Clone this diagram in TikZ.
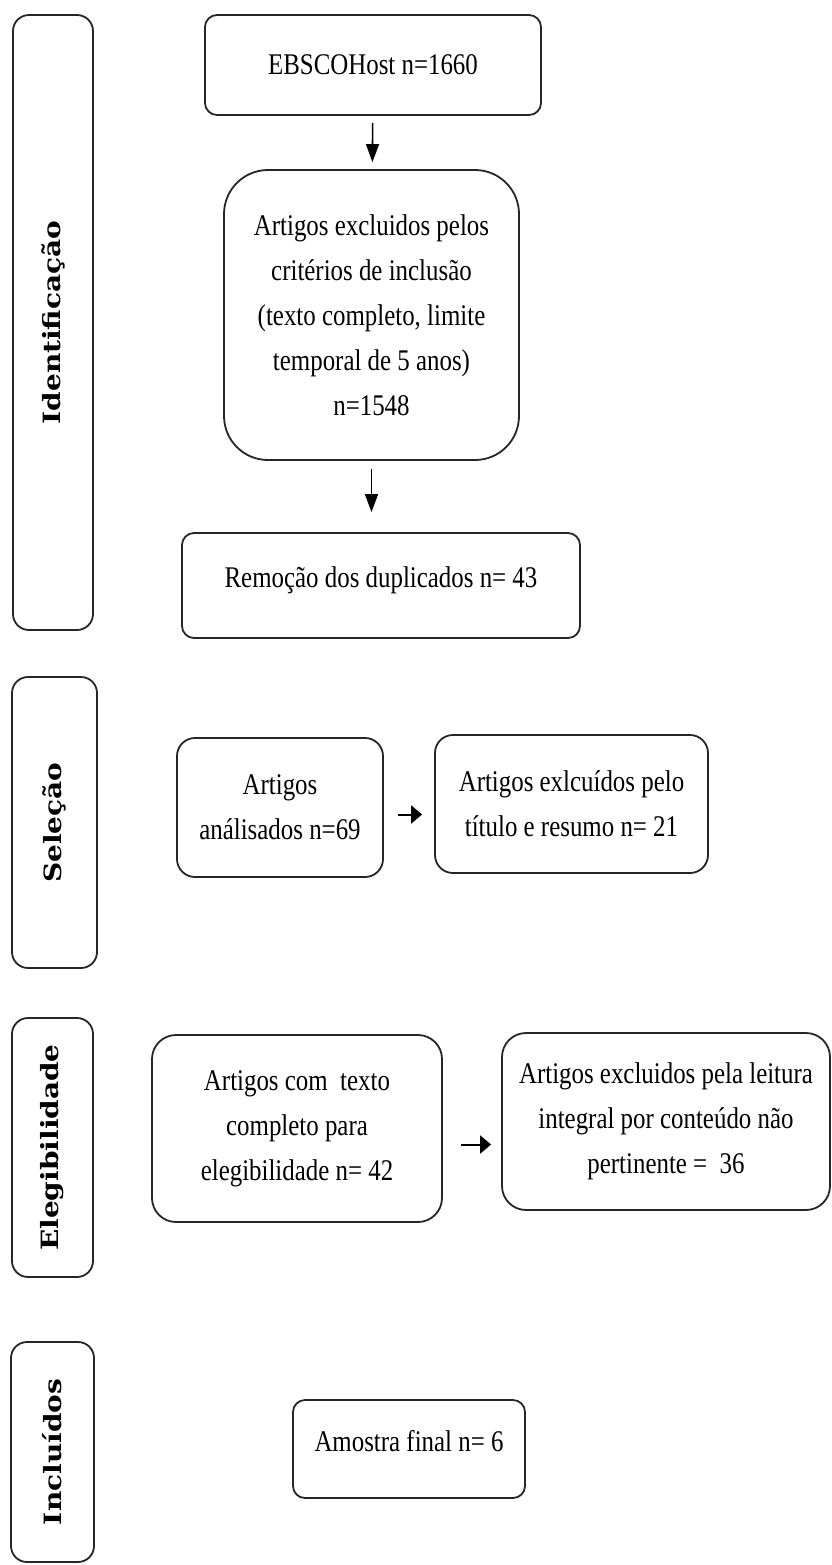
\documentclass[tikz,border=0pt]{standalone}
\usepackage{graphicx}
\usepackage{fontspec}
\setmainfont{Liberation Serif}[FakeStretch=0.83]
\newfontfamily\sidefont{DejaVu Serif}
\newcommand{\sidelabel}[1]{\scalebox{1}[0.85]{#1}}
\usetikzlibrary{arrows.meta}

\tikzset{
  box/.style={draw=black!85, line width=0.9pt, align=center, inner sep=2pt,
    font=\fontsize{15}{22.5}\selectfont},
  oneline/.style={text depth=8pt},
  side/.style={draw=black!85, line width=0.9pt, rounded corners=8pt, rotate=90,
    inner sep=0pt, font=\sidefont\bfseries\fontsize{14}{16}\selectfont},
  arrv/.style={-{Triangle[length=9pt,width=6.5pt]}, line width=0.8pt},
  arrh/.style={-{Triangle[length=5.5pt,width=9pt]}, line width=1pt}
}

\begin{document}
\begin{tikzpicture}[x=0.5pt,y=-0.5pt]
\useasboundingbox (0,0) rectangle (831,1565);

% fases
\node[side, minimum width=307.5pt, minimum height=40pt] (ident) at (53,322.5) {\sidelabel{Identificação}};
\node[side, minimum width=145.5pt, minimum height=42.5pt] (selec) at (54.5,822.5) {\sidelabel{Seleção}};
\node[side, minimum width=129.5pt, minimum height=40.5pt] (elegi) at (52.5,1147.5) {\sidelabel{Elegibilidade}};
\node[side, minimum width=110pt, minimum height=41.5pt] (inclu) at (52.5,1452) {\sidelabel{Incluídos}};

% identificacao
\node[box, rounded corners=6pt, minimum width=168pt, minimum height=50pt] (ebsco) at (373,65) {EBSCOHost n=1660};
\node[box, rounded corners=22pt, minimum width=147.5pt, minimum height=145pt] (criter) at (371.5,315)
  {Artigos excluidos pelos\\critérios de inclusão\\(texto completo, limite\\temporal de 5 anos)\\n=1548};
\node[box, oneline, rounded corners=6pt, minimum width=199pt, minimum height=52.5pt] (dupl) at (381,585.5) {Remoção dos duplicados n= 43};

% selecao
\node[box, rounded corners=9pt, minimum width=103pt, minimum height=69.5pt] (anali) at (280,807.5) {Artigos\\análisados n=69};
\node[box, rounded corners=9pt, minimum width=136.5pt, minimum height=69pt] (titulo) at (571.5,804) {Artigos exlcuídos pelo\\título e resumo n= 21};

% elegibilidade
\node[box, rounded corners=12pt, minimum width=145pt, minimum height=93.5pt] (compl) at (297,1128.5) {Artigos com\ \ texto\\completo para\\elegibilidade n= 42};
\node[box, rounded corners=12pt, minimum width=164pt, minimum height=88.5pt] (leitura) at (666,1121.5) {Artigos excluidos pela leitura\\integral por conteúdo não\\pertinente =\ \ 36};

% incluidos
\node[box, oneline, rounded corners=6pt, minimum width=116pt, minimum height=49pt] (amostra) at (409,1449) {Amostra final n= 6};

\draw[arrv, shorten <=3.5pt, shorten >=3.5pt] (ebsco) -- (criter);
\draw[arrv, shorten <=4pt, shorten >=10pt] (criter.south) -- (criter.south |- dupl.north);
\draw[arrh, shorten <=7pt, shorten >=6pt] ([yshift=-3.5pt]anali.east) -- ([yshift=-3.5pt]anali.east -| titulo.west);
\draw[arrh, shorten <=9pt, shorten >=5pt] ([yshift=-8pt]compl.east) -- ([yshift=-8pt]compl.east -| leitura.west);
\end{tikzpicture}
\end{document}
